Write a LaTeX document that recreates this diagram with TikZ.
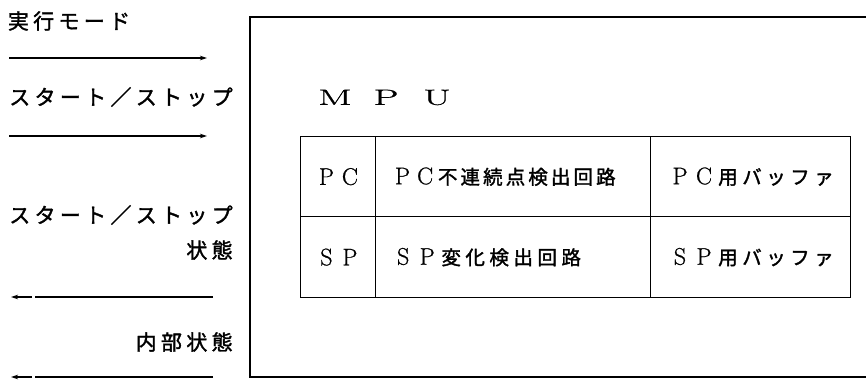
\documentclass[tikz,border=0pt]{standalone}
\usepackage{fontspec}
\usepackage{graphicx}
\usetikzlibrary{arrows.meta}
\newfontfamily\jp[FakeBold=1.6]{Noto Sans CJK JP}
\newfontfamily\lmr[FakeBold=0.8]{Latin Modern Roman}
\makeatletter
\newcommand\pitched[2]{\@tfor\pch:=#2\do{\makebox[#1][c]{\pch}}}
\makeatother
\newcommand\lt[1]{{\lmr\fontsize{24}{24}\selectfont #1}}
\newcommand\mpuch[1]{\scalebox{1.8}[1]{\lmr\fontsize{22}{22}\selectfont #1}}
\tikzset{
  lbl/.style={inner sep=0pt, font=\jp\fontsize{21}{22}\selectfont},
  cell/.style={draw, line width=1.3pt, minimum height=80pt, inner sep=0pt, anchor=north west},
  ctext/.style={inner sep=0pt, font=\jp\fontsize{19.5}{20}\selectfont},
  sig/.style={line width=1.3pt, -{Stealth[length=7pt,width=4.5pt]}},
  sigback/.style={line width=1.8pt, -{Stealth[length=7pt,width=4.5pt]}, dash pattern=on 178pt off 3pt on 40pt},
}
\begin{document}
\begin{tikzpicture}[x=1pt,y=-1pt]
\useasboundingbox (0,0) rectangle (866,380);
\fill[white] (0,0) rectangle (866,380);
% outer MPU box (right side beyond the picture)
\begin{scope}
\clip (0,0) rectangle (866,380);
\draw[line width=1.4pt] (250,17) rectangle (900,377);
\end{scope}
\node[inner sep=0pt] (mpu) at (386,97.5) {\pitched{51pt}{{\mpuch{M}}{\mpuch{P}}{\mpuch{U}}}};
% table cells
\node[cell, minimum width=75pt] (pc) at (300,136) {};
\node[cell, minimum width=275pt] (pcdet) at (375,136) {};
\node[cell, minimum width=200pt] (pcbuf) at (650,136) {};
\node[cell, minimum width=75pt, minimum height=81pt] (sp) at (300,216) {};
\node[cell, minimum width=275pt, minimum height=81pt] (spdet) at (375,216) {};
\node[cell, minimum width=200pt, minimum height=81pt] (spbuf) at (650,216) {};
\node[ctext] (pct) at (pc.center) {\pitched{23.5pt}{{\lt P}{\lt C}}};
\node[ctext, anchor=west] (pcdett) at (pcdet.west -| 391,0) {\pitched{22.6pt}{{\lt P}{\lt C}不連続点検出回路}};
\node[ctext] (pcbuft) at (pcbuf.center -| 752,0) {\pitched{24pt}{{\lt P}{\lt C}用バッファ}};
\node[ctext] (spt) at (sp.center) {\pitched{23.5pt}{{\lt S}{\lt P}}};
\node[ctext, anchor=west] (spdett) at (spdet.west -| 391,0) {\pitched{24pt}{{\lt S}{\lt P}変化検出回路}};
\node[ctext] (spbuft) at (spbuf.center -| 752,0) {\pitched{24pt}{{\lt S}{\lt P}用バッファ}};
% left labels
\node[lbl] (mode) at (69,21) {\pitched{25.3pt}{実行モード}};
\node[lbl] (ss) at (121,97) {\pitched{25.3pt}{スタート／ストップ}};
\node[lbl] (ss2) at (121,215) {\pitched{25.3pt}{スタート／ストップ}};
\node[lbl, anchor=east] (st) at (235,250) {\pitched{25.3pt}{状態}};
\node[lbl, anchor=east] (inner) at (235,342) {\pitched{25.3pt}{内部状態}};
% signal arrows
\coordinate (a1s) at (9,58);  \coordinate (a1e) at (207,58);
\coordinate (a2s) at (9,136); \coordinate (a2e) at (207,136);
\coordinate (a3s) at (213,297); \coordinate (a3e) at (11,297);
\coordinate (a4s) at (213,377); \coordinate (a4e) at (11,377);
\draw[sig] (a1s) -- (a1e);
\draw[sig] (a2s) -- (a2e);
\draw[sigback] (a3s) -- (a3e);
\draw[sigback] (a4s) -- (a4e);
\end{tikzpicture}
\end{document}
